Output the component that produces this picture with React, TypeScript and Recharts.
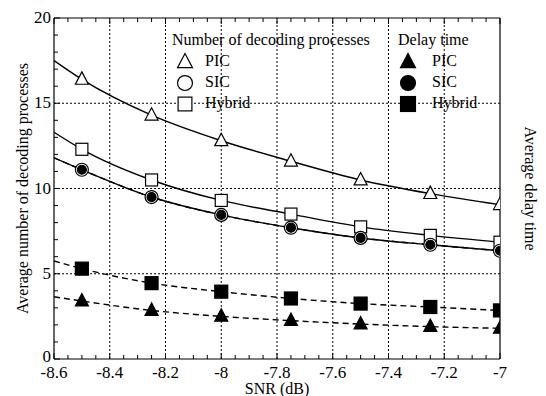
import { LineChart, Line, XAxis, YAxis, ReferenceLine, Legend } from "recharts"

const snr = [-8.6, -8.5, -8.25, -8, -7.75, -7.5, -7.25, -7]
const picDecoding = [17.5, 16.4, 14.3, 12.8, 11.6, 10.5, 9.7, 9.05]
const sicDecoding = [11.8, 11.1, 9.5, 8.45, 7.7, 7.1, 6.7, 6.35]
const hybridDecoding = [13.3, 12.3, 10.5, 9.3, 8.5, 7.75, 7.25, 6.85]
const picDelay = [3.65, 3.4, 2.85, 2.5, 2.25, 2.05, 1.9, 1.8]
const sicDelay = [11.8, 11.1, 9.5, 8.45, 7.7, 7.1, 6.7, 6.35]
const hybridDelay = [5.75, 5.3, 4.45, 3.95, 3.55, 3.25, 3.05, 2.85]

const xMajorTicks = [-8.6, -8.4, -8.2, -8, -7.8, -7.6, -7.4, -7.2, -7]
const xMinorTicks = Array.from({ length: 33 }, (_, i) => Math.round((-8.6 + i * 0.05) * 100) / 100)
const xGrid = [-8.4, -8.2, -8, -7.8, -7.6, -7.4, -7.2]
const yMajorTicks = [0, 5, 10, 15, 20]
const yMinorTicks = Array.from({ length: 21 }, (_, i) => i)
const yGrid = [5, 10, 15]

const data = snr.map((x, i) => ({
  snr: x,
  picDecoding: picDecoding[i],
  sicDecoding: sicDecoding[i],
  hybridDecoding: hybridDecoding[i],
  picDelay: picDelay[i],
  sicDelay: sicDelay[i],
  hybridDelay: hybridDelay[i],
}))

const font = "'Liberation Serif', 'Times New Roman', serif"
const tickFont = 17

type Shape = "triangle" | "circle" | "square"

function Symbol({ shape, filled, cx, cy, big }: { shape: Shape; filled: boolean; cx: number; cy: number; big?: boolean }) {
  const fill = filled ? "#000" : "#fff"
  const sw = 1.2
  const k = big ? 1.15 : 1
  if (shape === "triangle") {
    const s = 6.5 * k
    return (
      <polygon
        points={`${cx},${cy - s - 1} ${cx - s},${cy + s * 0.75} ${cx + s},${cy + s * 0.75}`}
        fill={fill}
        stroke="#000"
        strokeWidth={sw}
      />
    )
  }
  if (shape === "circle") {
    return <circle cx={cx} cy={cy} r={(filled && !big ? 4.5 : 6.5) * k} fill={fill} stroke="#000" strokeWidth={sw} />
  }
  const h = (filled ? 6.5 : 6) * k
  return <rect x={cx - h} y={cy - h} width={h * 2} height={h * 2} fill={fill} stroke="#000" strokeWidth={sw} />
}

function marker(shape: Shape, filled: boolean) {
  return (props: any) => {
    const { cx, cy, index } = props
    if (index === 0 || cx == null || cy == null) return <g key={`m-${shape}-${filled}-${index}`} />
    return (
      <g key={`m-${shape}-${filled}-${index}`}>
        <Symbol shape={shape} filled={filled} cx={cx} cy={cy} />
      </g>
    )
  }
}

function BottomTick({ x, y, payload }: any) {
  const major = xMajorTicks.includes(payload.value)
  return (
    <g>
      <line x1={x} x2={x} y1={y} y2={y - (major ? 6 : 4)} stroke="#000" />
      {major && (
        <text x={x} y={y + 19} textAnchor="middle" fontSize={tickFont} fontFamily={font} fill="#000">
          {payload.value}
        </text>
      )}
    </g>
  )
}

function TopTick({ x, y, payload }: any) {
  const major = xMajorTicks.includes(payload.value)
  return <line x1={x} x2={x} y1={y} y2={y + (major ? 6 : 4)} stroke="#000" />
}

function LeftTick({ x, y, payload }: any) {
  const major = yMajorTicks.includes(payload.value)
  return (
    <g>
      <line x1={x} x2={x + (major ? 6 : 4)} y1={y} y2={y} stroke="#000" />
      {major && (
        <text x={x - 3} y={y + (payload.value === 0 ? 3 : 5)} textAnchor="end" fontSize={tickFont} fontFamily={font} fill="#000">
          {payload.value}
        </text>
      )}
    </g>
  )
}

function RightTick({ x, y, payload }: any) {
  const major = yMajorTicks.includes(payload.value)
  return (
    <g>
      <line x1={x} x2={x - (major ? 6 : 4)} y1={y} y2={y} stroke="#000" />
      {major && (
        <text x={x + 4} y={y + (payload.value === 0 ? 3 : 5)} textAnchor="start" fontSize={tickFont} fontFamily={font} fill="#000">
          {payload.value}
        </text>
      )}
    </g>
  )
}

const legendGroups = [
  { title: "Number of decoding processes", filled: false, left: 172, symX: 185, textX: 205 },
  { title: "Delay time", filled: true, left: 398, symX: 408, textX: 432 },
]
const legendItems: { label: string; shape: Shape }[] = [
  { label: "PIC", shape: "triangle" },
  { label: "SIC", shape: "circle" },
  { label: "Hybrid", shape: "square" },
]
const legendRowsY = [62, 83, 104]

function ChartLegend() {
  return (
    <div style={{ position: "relative", width: 546, height: 396, fontFamily: font, fontSize: 16, color: "#000" }}>
      {legendGroups.map((g) => (
        <div key={g.title}>
          <div style={{ position: "absolute", left: g.left, top: 31, lineHeight: "18px", whiteSpace: "nowrap" }}>
            {g.title}
          </div>
          {legendItems.map((it, i) => (
            <div key={it.label}>
              <svg
                width={18}
                height={18}
                style={{ position: "absolute", left: g.symX - 9, top: legendRowsY[i] - 9, overflow: "visible" }}
              >
                <Symbol shape={it.shape} filled={g.filled} cx={9} cy={9} big />
              </svg>
              <div
                style={{
                  position: "absolute",
                  left: g.textX,
                  top: legendRowsY[i] - 10,
                  lineHeight: "18px",
                  whiteSpace: "nowrap",
                }}
              >
                {it.label}
              </div>
            </div>
          ))}
        </div>
      ))}
    </div>
  )
}

export default function App() {
  return (
    <div style={{ position: "absolute", left: 0, top: 0, width: 546, height: 396, background: "#fff" }}>
      <LineChart width={546} height={396} data={data} margin={{ top: 16, right: 0, bottom: 0, left: 0 }}>
        <XAxis
          xAxisId="bottom"
          dataKey="snr"
          type="number"
          domain={[-8.6, -7]}
          ticks={xMinorTicks}
          interval={0}
          allowDataOverflow
          height={37}
          tickSize={0}
          tickMargin={0}
          tick={<BottomTick />}
          axisLine={{ stroke: "#000", strokeWidth: 1.2 }}
          label={{ value: "SNR (dB)", position: "center", dy: 11, fontSize: 16, fontFamily: font, fill: "#000" }}
        />
        <XAxis
          xAxisId="top"
          orientation="top"
          dataKey="snr"
          type="number"
          domain={[-8.6, -7]}
          ticks={xMinorTicks}
          interval={0}
          allowDataOverflow
          height={2}
          tickSize={0}
          tickMargin={0}
          tick={<TopTick />}
          axisLine={{ stroke: "#000", strokeWidth: 1.2 }}
        />
        <YAxis
          yAxisId="left"
          type="number"
          domain={[0, 20]}
          ticks={yMinorTicks}
          interval={0}
          width={54}
          tickSize={0}
          tickMargin={0}
          tick={<LeftTick />}
          axisLine={{ stroke: "#000", strokeWidth: 1.2 }}
          label={{
            value: "Average number of decoding processes",
            angle: -90,
            position: "center",
            dx: -5,
            fontSize: 16,
            fontFamily: font,
            fill: "#000",
          }}
        />
        <YAxis
          yAxisId="right"
          orientation="right"
          type="number"
          domain={[0, 20]}
          ticks={yMinorTicks}
          interval={0}
          width={46}
          tickSize={0}
          tickMargin={0}
          tick={<RightTick />}
          axisLine={{ stroke: "#000", strokeWidth: 1.2 }}
          label={{
            value: "Average delay time",
            angle: 90,
            position: "center",
            dx: 8,
            fontSize: 16,
            fontFamily: font,
            fill: "#000",
          }}
        />
        {xGrid.map((v) => (
          <ReferenceLine key={`gx${v}`} x={v} xAxisId="bottom" yAxisId="left" stroke="#000" strokeDasharray="2 2" />
        ))}
        {yGrid.map((v) => (
          <ReferenceLine key={`gy${v}`} y={v} xAxisId="bottom" yAxisId="left" stroke="#000" strokeDasharray="2 2" />
        ))}
        <Legend
          layout="vertical"
          align="center"
          verticalAlign="middle"
          wrapperStyle={{ left: 0, top: 0, width: 546, height: 396, pointerEvents: "none" }}
          content={() => <ChartLegend />}
        />
        <Line
          xAxisId="bottom"
          yAxisId="left"
          type="monotone"
          dataKey="picDelay"
          stroke="#000"
          strokeWidth={1.4}
          strokeDasharray="6 4"
          dot={marker("triangle", true)}
          isAnimationActive={false}
        />
        <Line
          xAxisId="bottom"
          yAxisId="left"
          type="monotone"
          dataKey="hybridDelay"
          stroke="#000"
          strokeWidth={1.4}
          strokeDasharray="6 4"
          dot={marker("square", true)}
          isAnimationActive={false}
        />
        <Line
          xAxisId="bottom"
          yAxisId="left"
          type="monotone"
          dataKey="picDecoding"
          stroke="#000"
          strokeWidth={1.4}
          dot={marker("triangle", false)}
          isAnimationActive={false}
        />
        <Line
          xAxisId="bottom"
          yAxisId="left"
          type="monotone"
          dataKey="hybridDecoding"
          stroke="#000"
          strokeWidth={1.4}
          dot={marker("square", false)}
          isAnimationActive={false}
        />
        <Line
          xAxisId="bottom"
          yAxisId="left"
          type="monotone"
          dataKey="sicDecoding"
          stroke="#000"
          strokeWidth={1.4}
          dot={marker("circle", false)}
          isAnimationActive={false}
        />
        <Line
          xAxisId="bottom"
          yAxisId="left"
          type="monotone"
          dataKey="sicDelay"
          stroke="#000"
          strokeWidth={1.4}
          strokeDasharray="6 4"
          dot={marker("circle", true)}
          isAnimationActive={false}
        />
      </LineChart>
    </div>
  )
}
